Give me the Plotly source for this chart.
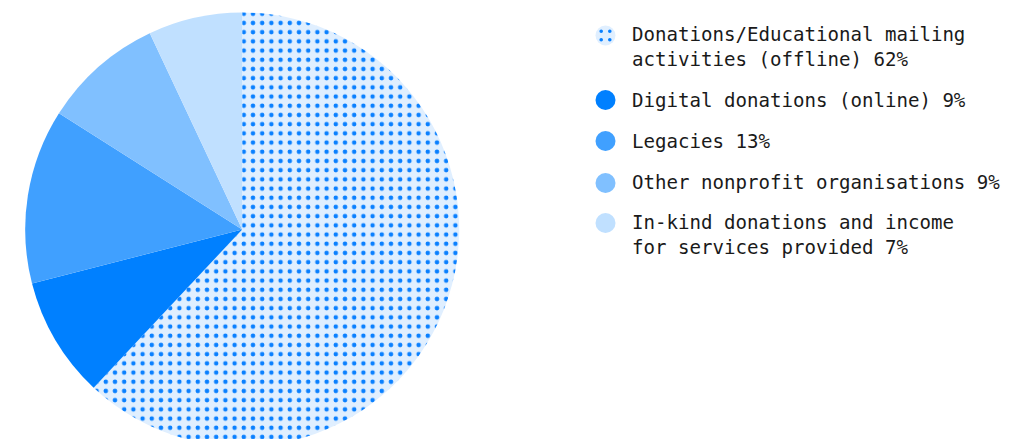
import plotly.graph_objects as go

categories = [
    "Donations/Educational mailing<br>activities (offline) 62%",
    "Digital donations (online) 9%",
    "Legacies 13%",
    "Other nonprofit organisations 9%",
    "In-kind donations and income<br>for services provided 7%",
]
values = [62, 9, 13, 9, 7]
colors = ["#E0EFFF", "#0080FF", "#40A0FF", "#80C0FF", "#C0E0FF"]
patterns = [".", "", "", "", ""]

W, H = 1009, 447

def px(x):
    return x / W

def py(y):
    return 1 - y / H

cx, cy, r = 242.2, 229.5, 217
fig = go.Figure()
fig.add_trace(go.Pie(
    values=values,
    labels=categories,
    sort=False,
    direction="clockwise",
    rotation=0,
    textinfo="none",
    hoverinfo="label",
    showlegend=False,
    marker=dict(
        colors=colors,
        line=dict(width=0),
        pattern=dict(shape=patterns, fgcolor="#0A80FF", bgcolor="#E0EFFF",
                     size=9.2, solidity=0.19, fgopacity=1, fillmode="overlay"),
    ),
    domain=dict(x=[px(cx - r), px(cx + r)], y=[py(cy + r), py(cy - r)]),
))

leg_y = [35.5, 100, 141, 183, 223]
text_y = [46.5, 100, 141, 183, 234.5]
mx, mr = 605.5, 10
shapes = []
annotations = []
for i, c in enumerate(categories):
    y = leg_y[i]
    shapes.append(dict(type="circle", xref="paper", yref="paper",
                       x0=px(mx - mr), x1=px(mx + mr), y0=py(y + mr), y1=py(y - mr),
                       fillcolor=colors[i], line=dict(width=0)))
    annotations.append(dict(text=c, x=px(630), y=py(text_y[i]), xref="paper", yref="paper",
                            xanchor="left", yanchor="middle", align="left", showarrow=False,
                            font=dict(family="DejaVu Sans Mono", size=19.1, color="#1A1A1A")))

for dx in (-4.3, 4.3):
    for dy in (-4.3, 4.3):
        shapes.append(dict(type="circle", xref="paper", yref="paper",
                           x0=px(mx + dx - 1.8), x1=px(mx + dx + 1.8),
                           y0=py(leg_y[0] + dy + 1.8), y1=py(leg_y[0] + dy - 1.8),
                           fillcolor="#0A80FF", line=dict(width=0)))

fig.update_layout(
    width=W, height=H,
    margin=dict(l=0, r=0, t=0, b=0),
    paper_bgcolor="white", plot_bgcolor="white",
    shapes=shapes, annotations=annotations,
)

fig.write_html("out.html", config={"displayModeBar": False},
               post_script="document.documentElement.style.overflow='hidden';document.body.style.overflow='hidden';document.body.style.margin='0';")
